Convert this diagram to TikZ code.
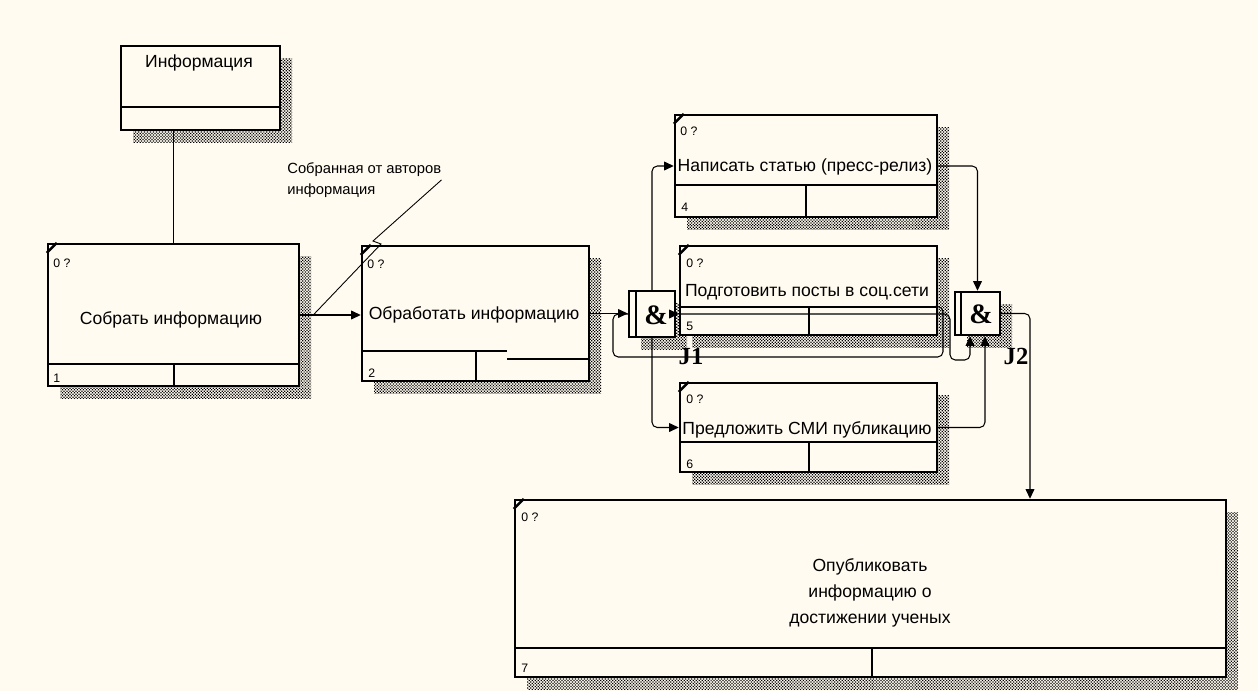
\documentclass[tikz,border=0pt]{standalone}
\usepackage{fontspec}
\setmainfont{Liberation Sans}
\newfontfamily\jfont{Liberation Serif}
\usetikzlibrary{arrows.meta,positioning,fit,calc,patterns.meta}
\definecolor{paper}{RGB}{255,251,240}

\begin{document}
\begin{tikzpicture}[
  x=0.02cm, y=-0.02cm,
  act/.style={draw, line width=1.4pt, fill=paper, inner sep=0pt},
  shade/.style={pattern={Dots[distance=1.2pt,radius=0.5pt,angle=45]}, pattern color=black},
  part/.style={line width=1.4pt},
  flow/.style={-{Triangle[length=5.5pt,width=5pt]}, line width=0.6pt, rounded corners=3pt},
  wire/.style={line width=0.6pt, rounded corners=3pt},
  acttext/.style={font=\fontsize{10}{14.7}\selectfont, inner sep=0pt, align=center},
  tag/.style={font=\fontsize{7}{7}\selectfont, inner sep=0pt, anchor=west},
  amp/.style={font=\jfont\bfseries\fontsize{16}{16}\selectfont, inner sep=0pt},
  jname/.style={font=\jfont\bfseries\fontsize{14}{14}\selectfont, inner sep=0pt}
]
\fill[paper] (0,0) rectangle (1258,691);
\useasboundingbox (0,0) rectangle (1258,691);

% shadows
\fill[shade] (133,58) rectangle (292,142);
\fill[shade] (60,256) rectangle (311,398);
\fill[shade] (374,258) rectangle (601,393);
\fill[shade] (687,127) rectangle (949,229);
\fill[shade] (692,258) rectangle (949,347);
\fill[shade] (692,395) rectangle (949,484);
\fill[shade] (527,512) rectangle (1238,689);
\fill[shade] (641,303) rectangle (687,349);
\fill[shade] (967,304) rectangle (1012,347);

% boxes
\node[act, fit={(121,46) (280,130)}] (info) {};
\draw[part] (121,107) -- (280,107);
\node[acttext] (infot) at (199,63) {Информация};

\node[act, fit={(48,244) (299,386)}] (b1) {};
\draw[part] (48,364) -- (299,364) (174,364) -- (174,386);
\node[acttext] (t1) at (171,320) {Собрать информацию};
\node[tag] (q1) at (53,263) {0 ?};
\node[tag] (n1) at (53,378) {1};

\node[act, fit={(362,246) (589,381)}] (b2) {};
\draw[part] (362,351) -- (507,351) (507,359) -- (589,359) (476,351) -- (476,381);
\node[acttext] (t2) at (474,315) {Обработать информацию};
\node[tag] (q2) at (367,264) {0 ?};
\node[tag] (n2) at (368,373) {2};

\node[act, fit={(675,115) (937,217)}] (b4) {};
\draw[part] (675,185) -- (937,185) (806,185) -- (806,217);
\node[acttext] (t4) at (805,167) {Написать статью (пресс-релиз)};
\node[tag] (q4) at (680,131) {0 ?};
\node[tag] (n4) at (681,207) {4};

\node[act, fit={(680,246) (937,335)}] (b5) {};
\draw[part] (680,307) -- (937,307) (809,307) -- (809,335);
\node[acttext] (t5) at (807,292) {Подготовить посты в соц.сети};
\node[tag] (q5) at (686,263) {0 ?};
\node[tag] (n5) at (686,326) {5};

\node[act, fit={(680,383) (937,472)}] (b6) {};
\draw[part] (680,442) -- (937,442) (809,442) -- (809,472);
\node[acttext] (t6) at (807,430) {Предложить СМИ публикацию};
\node[tag] (q6) at (686,399) {0 ?};
\node[tag] (n6) at (686,464) {6};

\node[act, fit={(515,500) (1226,677)}] (b7) {};
\draw[part] (515,648) -- (1226,648) (872,648) -- (872,677);
\node[acttext] (t7) at (870,593) {Опубликовать\\информацию о\\достижении ученых};
\node[tag] (q7) at (521,517) {0 ?};
\node[tag] (n7) at (521,668) {7};

\foreach \b in {b1,b2,b4,b5,b6,b7}
  \draw[part] ([yshift=-0.2cm]\b.north west) -- ([xshift=0.2cm]\b.north west);

% junctions
\node[act, fit={(629,291) (675,337)}] (j1) {};
\draw[part] (636,291) -- (636,337);
\node[amp] (a1) at (656,315) {\&};
\node[jname] (j1n) at (691,356) {J1};

\node[act, fit={(955,292) (1000,335)}] (j2) {};
\draw[part] (961,292) -- (961,335);
\node[amp] (a2) at (981,314) {\&};
\node[jname] (j2n) at (1016,356) {J2};

% label
\node[anchor=north west, align=left, font=\fontsize{8.4}{12}\selectfont, inner sep=0pt] (lab) at (287,162)
  {Собранная от авторов\\информация};
\coordinate (tap) at ($(b1.east)+(13,0)$);
\coordinate (zig1) at (373,241);
\coordinate (zig2) at (381,244);
\draw[line width=0.5pt] (lab.east) -- (zig1) -- (zig2) -- (tap);

% arrows
\draw[wire] (b1.north) -- (b1.north |- info.south);
\draw[flow] (b1.east) -- (b1.east -| b2.west);
\draw[flow] (b2.east) -- (b2.east -| j1.west);
\draw[flow] (j1.north) |- (b4.west);
\draw[flow] (j1.south) |- (b6.west);
\draw[flow] (j1.east) -- (j1.east -| b5.west);

\coordinate (bend1) at (950,360);
\draw[flow] (j1.east -| b5.west) -| (bend1) -| ([xshift=-0.15cm]j2.south);
\coordinate (back1) at (943,357);
\coordinate (back2) at (613,357);
\draw[wire] ([yshift=-0.32cm]b5.east) -| (back1) -- (back2) |- (j1.west);

\draw[flow] (b4.east) -| (j2.north);
\draw[flow] (b6.east) -| ([xshift=0.15cm]j2.south);
\coordinate (drop) at (1030,0);
\draw[flow] (j2.east) -| (drop |- b7.north);

\end{tikzpicture}
\end{document}
